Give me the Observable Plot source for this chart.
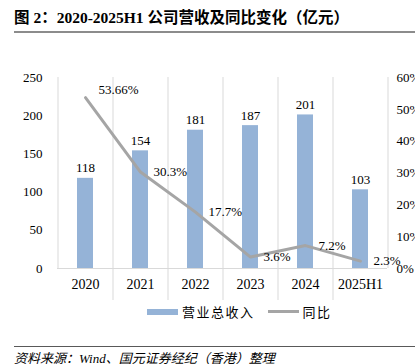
<!DOCTYPE html>
<html><head><meta charset="utf-8">
<script src="https://cdn.jsdelivr.net/npm/d3@7"></script>
<script src="https://cdn.jsdelivr.net/npm/@observablehq/plot@0.6"></script>
<style>
body{margin:0;background:#fff;}
#wrap{position:relative;width:415px;height:364px;overflow:hidden;font-family:"Liberation Serif","Noto Sans CJK SC",serif;color:#000;}
#title{position:absolute;left:14px;top:5px;font-size:15.5px;font-weight:bold;white-space:nowrap;}
#rule1{position:absolute;left:14px;top:31px;width:401px;height:2px;background:#8c8c8c;}
#chart{position:absolute;left:0;top:40px;}
#legend{position:absolute;left:147px;top:302px;font-size:13px;display:flex;align-items:center;white-space:nowrap;letter-spacing:1.5px;}
.sw1{width:31px;height:6px;background:#95b3d7;margin-right:4px;}
.sw2{width:31px;height:3px;background:#a5a5a5;margin-right:4px;margin-left:13px;}
#rule2{position:absolute;left:14px;top:346px;width:401px;height:1px;background:#595959;}
#caption{position:absolute;left:14px;top:348px;font-size:13px;font-style:italic;white-space:nowrap;}
</style></head><body>
<div id="wrap">
<div id="title">图 2：2020-2025H1 公司营收及同比变化（亿元）</div>
<div id="rule1"></div>
<div id="chart"></div>
<div id="legend"><div class="sw1"></div><span id="lg1"></span><div class="sw2"></div><span id="lg2"></span></div>
<div id="rule2"></div>
<div id="caption">资料来源：Wind、国元证券经纪（香港）整理</div>
</div>
<script>
const years = ["2020","2021","2022","2023","2024","2025H1"];
const revenue = [118,154,181,187,201,103];
const yoy = [53.66,30.3,17.7,3.6,7.2,2.3];
const yoyLabels = ["53.66%","30.3%","17.7%","3.6%","7.2%","2.3%"];
const leftTicks = [0,50,100,150,200,250];
const rightTicks = [0,10,20,30,40,50,60];
const seriesNames = ["营业总收入","同比"];
const yMax = 250, pctMax = 60;
const toLeft = p => p * yMax / pctMax;

document.getElementById("lg1").textContent = seriesNames[0];
document.getElementById("lg2").textContent = seriesNames[1];

const rows = years.map((y, i) => ({year: y, revenue: revenue[i], yoyScaled: toLeft(yoy[i]), label: yoyLabels[i]}));
const half = 27.5;

const chart = Plot.plot({
  width: 415, height: 260,
  marginLeft: 57, marginRight: 28, marginTop: 37, marginBottom: 32,
  style: {fontFamily: '"Liberation Serif","Noto Sans CJK SC",serif', fontSize: "13px", color: "#000", background: "transparent"},
  x: {type: "band", domain: years, paddingInner: 0.71, paddingOuter: 0.355, label: null},
  y: {domain: [0, yMax], label: null},
  marks: [
    Plot.barY(rows, {x: "year", y: "revenue", fill: "#95b3d7"}),
    Plot.ruleY([0], {stroke: "#d9d9d9"}),
    Plot.ruleX([years[0]], {dx: -half, y1: 0, y2: yMax, stroke: "#d9d9d9"}),
    Plot.ruleX([years[years.length - 1]], {dx: half, y1: 0, y2: yMax, stroke: "#d9d9d9"}),
    Plot.ruleX(years.slice(1), {dx: -half, y1: 0, y2: yMax, insetTop: 187, stroke: "#d9d9d9"}),
    Plot.line(rows, {x: "year", y: "yoyScaled", stroke: "#a5a5a5", strokeWidth: 3}),
    Plot.text(rows, {x: "year", y: "revenue", text: d => String(d.revenue), lineAnchor: "bottom", dy: -6, fontSize: 13}),
    Plot.text(rows.slice(0, 1), {x: "year", y: "yoyScaled", text: "label", textAnchor: "start", dx: 13, dy: -8, fontSize: 13}),
    Plot.text(rows.slice(1), {x: "year", y: "yoyScaled", text: "label", textAnchor: "start", dx: 13, dy: 0, fontSize: 13}),
    Plot.axisX({tickSize: 0, tickPadding: 11, fontSize: 14, label: null}),
    Plot.axisY(leftTicks, {anchor: "left", tickSize: 0, tickPadding: 15, fontSize: 13, label: null}),
    Plot.axisY(rightTicks.map(toLeft), {anchor: "right", tickSize: 0, tickPadding: 9, fontSize: 13, label: null,
      tickFormat: d => Math.round(d * pctMax / yMax) + "%"})
  ]
});
document.getElementById("chart").appendChild(chart);
</script>
</body></html>
